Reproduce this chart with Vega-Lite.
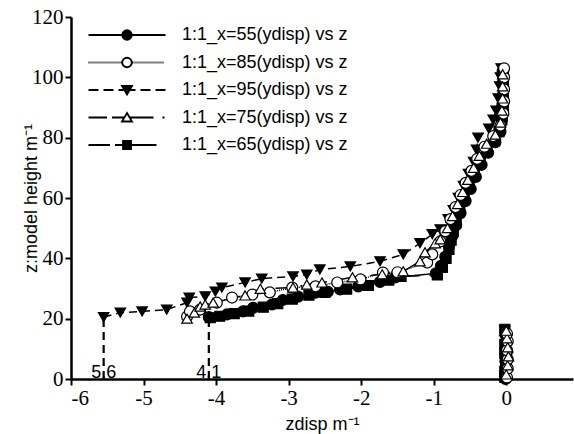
{
  "$schema": "https://vega.github.io/schema/vega-lite/v6.json",
  "width": 502,
  "height": 362,
  "autosize": "none",
  "padding": {"left": 71, "top": 17, "right": 1, "bottom": 55},
  "background": "white",
  "config": {
    "view": {"stroke": null},
    "font": "Liberation Sans",
    "axis": {
      "grid": false,
      "domainColor": "black",
      "domainWidth": 2.5,
      "tickColor": "black",
      "tickWidth": 2,
      "tickSize": 6,
      "labelFont": "Liberation Sans Narrow",
      "labelFontSize": 21,
      "labelColor": "black",
      "labelPadding": 2,
      "titleFont": "Liberation Sans",
      "titleFontSize": 18,
      "titleFontWeight": "normal",
      "titleColor": "black"
    }
  },
  "datasets": {
    "curves": [
      {"s":"55","x":-4.10,"z":20.5,"p":"u"},{"s":"55","x":-3.85,"z":21.4,"p":"u"},{"s":"55","x":-3.63,"z":22.4,"p":"u"},{"s":"55","x":-3.49,"z":23.6,"p":"u"},{"s":"55","x":-3.23,"z":24.7,"p":"u"},{"s":"55","x":-3.08,"z":26.2,"p":"u"},{"s":"55","x":-2.87,"z":27.3,"p":"u"},{"s":"55","x":-2.63,"z":28.6,"p":"u"},{"s":"55","x":-2.46,"z":28.9,"p":"u"},{"s":"55","x":-2.29,"z":29.7,"p":"u"},{"s":"55","x":-2.04,"z":30.7,"p":"u"},{"s":"55","x":-1.74,"z":32.2,"p":"u"},{"s":"55","x":-1.53,"z":33.7,"p":"u"},{"s":"55","x":-0.97,"z":35.0,"p":"u"},{"s":"55","x":-0.90,"z":37.5,"p":"u"},{"s":"55","x":-0.84,"z":40.5,"p":"u"},{"s":"55","x":-0.79,"z":44,"p":"u"},{"s":"55","x":-0.74,"z":47.5,"p":"u"},{"s":"55","x":-0.69,"z":51,"p":"u"},{"s":"55","x":-0.63,"z":55,"p":"u"},{"s":"55","x":-0.56,"z":59,"p":"u"},{"s":"55","x":-0.49,"z":63,"p":"u"},{"s":"55","x":-0.42,"z":67,"p":"u"},{"s":"55","x":-0.34,"z":71,"p":"u"},{"s":"55","x":-0.25,"z":75,"p":"u"},{"s":"55","x":-0.15,"z":78.5,"p":"u"},{"s":"55","x":-0.08,"z":82,"p":"u"},{"s":"55","x":-0.06,"z":86,"p":"u"},{"s":"55","x":-0.05,"z":90,"p":"u"},{"s":"55","x":-0.05,"z":94,"p":"u"},{"s":"55","x":-0.05,"z":98,"p":"u"},{"s":"55","x":-0.05,"z":102,"p":"u"},
      {"s":"55","x":-0.01,"z":0,"p":"l"},{"s":"55","x":0.0,"z":3,"p":"l"},{"s":"55","x":-0.01,"z":6,"p":"l"},{"s":"55","x":0.01,"z":9,"p":"l"},{"s":"55","x":0.0,"z":12,"p":"l"},{"s":"55","x":-0.01,"z":15.5,"p":"l"},

      {"s":"85","x":-4.40,"z":20.7,"p":"u"},{"s":"85","x":-4.36,"z":22.4,"p":"u"},{"s":"85","x":-4.22,"z":23,"p":"u"},{"s":"85","x":-3.99,"z":25.3,"p":"u"},{"s":"85","x":-3.78,"z":27,"p":"u"},{"s":"85","x":-3.50,"z":28,"p":"u"},{"s":"85","x":-3.26,"z":28.7,"p":"u"},{"s":"85","x":-2.95,"z":30.3,"p":"u"},{"s":"85","x":-2.63,"z":30.7,"p":"u"},{"s":"85","x":-2.33,"z":32,"p":"u"},{"s":"85","x":-2.01,"z":33,"p":"u"},{"s":"85","x":-1.70,"z":35.3,"p":"u"},{"s":"85","x":-1.50,"z":35.4,"p":"u"},{"s":"85","x":-1.09,"z":38.6,"p":"u"},{"s":"85","x":-1.02,"z":41.3,"p":"u"},{"s":"85","x":-0.91,"z":45.6,"p":"u"},{"s":"85","x":-0.84,"z":49,"p":"u"},{"s":"85","x":-0.77,"z":53,"p":"u"},{"s":"85","x":-0.70,"z":57,"p":"u"},{"s":"85","x":-0.63,"z":61,"p":"u"},{"s":"85","x":-0.56,"z":65,"p":"u"},{"s":"85","x":-0.48,"z":69,"p":"u"},{"s":"85","x":-0.40,"z":73,"p":"u"},{"s":"85","x":-0.30,"z":77,"p":"u"},{"s":"85","x":-0.18,"z":80.5,"p":"u"},{"s":"85","x":-0.08,"z":84,"p":"u"},{"s":"85","x":-0.04,"z":88,"p":"u"},{"s":"85","x":-0.03,"z":92,"p":"u"},{"s":"85","x":-0.03,"z":96,"p":"u"},{"s":"85","x":-0.03,"z":100,"p":"u"},{"s":"85","x":-0.03,"z":103,"p":"u"},
      {"s":"85","x":0.01,"z":0.5,"p":"l"},{"s":"85","x":0.02,"z":3.5,"p":"l"},{"s":"85","x":0.02,"z":6.5,"p":"l"},{"s":"85","x":0.01,"z":9.5,"p":"l"},{"s":"85","x":0.02,"z":12.5,"p":"l"},{"s":"85","x":0.01,"z":15,"p":"l"},

      {"s":"95","x":-5.55,"z":20.5,"p":"u"},{"s":"95","x":-5.32,"z":22,"p":"u"},{"s":"95","x":-5.02,"z":22.4,"p":"u"},{"s":"95","x":-4.68,"z":23,"p":"u"},{"s":"95","x":-4.40,"z":25.3,"p":"u"},{"s":"95","x":-4.37,"z":27,"p":"u"},{"s":"95","x":-4.15,"z":27.4,"p":"u"},{"s":"95","x":-4.01,"z":29,"p":"u"},{"s":"95","x":-3.92,"z":30.3,"p":"u"},{"s":"95","x":-3.60,"z":32,"p":"u"},{"s":"95","x":-3.37,"z":33.3,"p":"u"},{"s":"95","x":-2.94,"z":34,"p":"u"},{"s":"95","x":-2.75,"z":34.6,"p":"u"},{"s":"95","x":-2.57,"z":36.3,"p":"u"},{"s":"95","x":-2.15,"z":37.3,"p":"u"},{"s":"95","x":-1.74,"z":39,"p":"u"},{"s":"95","x":-1.42,"z":41.3,"p":"u"},{"s":"95","x":-1.19,"z":45,"p":"u"},{"s":"95","x":-1.02,"z":48,"p":"u"},{"s":"95","x":-0.91,"z":49.6,"p":"u"},{"s":"95","x":-0.80,"z":53,"p":"u"},{"s":"95","x":-0.73,"z":56,"p":"u"},{"s":"95","x":-0.66,"z":60,"p":"u"},{"s":"95","x":-0.59,"z":64,"p":"u"},{"s":"95","x":-0.52,"z":68,"p":"u"},{"s":"95","x":-0.45,"z":72,"p":"u"},{"s":"95","x":-0.41,"z":76,"p":"u"},{"s":"95","x":-0.39,"z":80,"p":"u"},{"s":"95","x":-0.24,"z":83,"p":"u"},{"s":"95","x":-0.18,"z":86,"p":"u"},{"s":"95","x":-0.14,"z":89,"p":"u"},{"s":"95","x":-0.11,"z":93,"p":"u"},{"s":"95","x":-0.09,"z":97,"p":"u"},{"s":"95","x":-0.08,"z":100,"p":"u"},{"s":"95","x":-0.07,"z":103,"p":"u"},
      {"s":"95","x":-0.02,"z":1,"p":"l"},{"s":"95","x":-0.01,"z":4,"p":"l"},{"s":"95","x":-0.02,"z":7,"p":"l"},{"s":"95","x":-0.01,"z":10,"p":"l"},{"s":"95","x":-0.02,"z":13,"p":"l"},{"s":"95","x":-0.02,"z":16,"p":"l"},

      {"s":"75","x":-4.40,"z":20,"p":"u"},{"s":"75","x":-4.30,"z":22,"p":"u"},{"s":"75","x":-4.22,"z":24,"p":"u"},{"s":"75","x":-4.15,"z":24.7,"p":"u"},{"s":"75","x":-4.04,"z":25.3,"p":"u"},{"s":"75","x":-3.60,"z":27.7,"p":"u"},{"s":"75","x":-3.39,"z":29.9,"p":"u"},{"s":"75","x":-2.94,"z":30.3,"p":"u"},{"s":"75","x":-2.75,"z":31.3,"p":"u"},{"s":"75","x":-2.54,"z":32,"p":"u"},{"s":"75","x":-2.12,"z":33.7,"p":"u"},{"s":"75","x":-1.71,"z":34.7,"p":"u"},{"s":"75","x":-1.42,"z":35.7,"p":"u"},{"s":"75","x":-1.19,"z":39,"p":"u"},{"s":"75","x":-1.12,"z":42,"p":"u"},{"s":"75","x":-0.98,"z":45,"p":"u"},{"s":"75","x":-0.91,"z":46.3,"p":"u"},{"s":"75","x":-0.81,"z":50,"p":"u"},{"s":"75","x":-0.74,"z":54,"p":"u"},{"s":"75","x":-0.67,"z":58,"p":"u"},{"s":"75","x":-0.60,"z":62,"p":"u"},{"s":"75","x":-0.53,"z":66,"p":"u"},{"s":"75","x":-0.45,"z":70,"p":"u"},{"s":"75","x":-0.37,"z":74,"p":"u"},{"s":"75","x":-0.27,"z":78,"p":"u"},{"s":"75","x":-0.15,"z":81,"p":"u"},{"s":"75","x":-0.08,"z":85,"p":"u"},{"s":"75","x":-0.06,"z":89,"p":"u"},{"s":"75","x":-0.05,"z":93,"p":"u"},{"s":"75","x":-0.05,"z":97,"p":"u"},{"s":"75","x":-0.05,"z":101,"p":"u"},
      {"s":"75","x":0.0,"z":1.5,"p":"l"},{"s":"75","x":0.02,"z":4.5,"p":"l"},{"s":"75","x":0.03,"z":7.5,"p":"l"},{"s":"75","x":0.02,"z":10.5,"p":"l"},{"s":"75","x":0.01,"z":13.5,"p":"l"},{"s":"75","x":0.0,"z":16,"p":"l"},

      {"s":"65","x":-4.08,"z":20.3,"p":"u"},{"s":"65","x":-3.95,"z":20.8,"p":"u"},{"s":"65","x":-3.75,"z":21.7,"p":"u"},{"s":"65","x":-3.55,"z":22.5,"p":"u"},{"s":"65","x":-3.35,"z":23.8,"p":"u"},{"s":"65","x":-3.15,"z":25,"p":"u"},{"s":"65","x":-2.95,"z":26.5,"p":"u"},{"s":"65","x":-2.72,"z":27.8,"p":"u"},{"s":"65","x":-2.50,"z":28.7,"p":"u"},{"s":"65","x":-2.20,"z":29.8,"p":"u"},{"s":"65","x":-1.90,"z":31,"p":"u"},{"s":"65","x":-1.62,"z":32.8,"p":"u"},{"s":"65","x":-1.45,"z":34,"p":"u"},{"s":"65","x":-0.95,"z":34.5,"p":"u"},{"s":"65","x":-0.88,"z":37,"p":"u"},{"s":"65","x":-0.83,"z":40,"p":"u"},{"s":"65","x":-0.79,"z":43,"p":"u"},{"s":"65","x":-0.76,"z":46,"p":"u"},{"s":"65","x":-0.73,"z":49,"p":"u"},{"s":"65","x":-0.69,"z":52.5,"p":"u"},{"s":"65","x":-0.64,"z":56,"p":"u"},{"s":"65","x":-0.58,"z":60,"p":"u"},{"s":"65","x":-0.51,"z":64,"p":"u"},{"s":"65","x":-0.44,"z":68,"p":"u"},{"s":"65","x":-0.36,"z":72,"p":"u"},{"s":"65","x":-0.27,"z":75.5,"p":"u"},{"s":"65","x":-0.17,"z":79,"p":"u"},{"s":"65","x":-0.10,"z":82,"p":"u"},{"s":"65","x":-0.06,"z":86,"p":"u"},{"s":"65","x":-0.04,"z":90,"p":"u"},{"s":"65","x":-0.04,"z":94,"p":"u"},{"s":"65","x":-0.04,"z":98,"p":"u"},{"s":"65","x":-0.04,"z":101.5,"p":"u"},
      {"s":"65","x":-0.02,"z":0.5,"p":"l"},{"s":"65","x":-0.02,"z":2.5,"p":"l"},{"s":"65","x":-0.01,"z":5.5,"p":"l"},{"s":"65","x":-0.02,"z":8.5,"p":"l"},{"s":"65","x":-0.02,"z":11.5,"p":"l"},{"s":"65","x":-0.02,"z":16.5,"p":"l"}
    ],
    "marks": [
      {"x": -5.55, "z0": 0, "z1": 20, "t": "5.6"},
      {"x": -4.1, "z0": 0, "z1": 20, "t": "4.1"}
    ]
  },
  "layer": [
    {
      "data": {"name": "curves"},
      "transform": [{"filter": "datum.p === 'u'"}],
      "mark": {"type": "line", "stroke": "black", "strokeWidth": 1.5, "clip": false},
      "encoding": {
        "x": {"field": "x", "type": "quantitative", "scale": {"domain": [-6, 0.92], "nice": false, "zero": false},
          "axis": {"values": [-6, -5, -4, -3, -2, -1, 0], "labelExpr": "'' + datum.value", "title": "zdisp m⁻¹", "titlePadding": 7}},
        "y": {"field": "z", "type": "quantitative", "scale": {"domain": [0, 120], "nice": false},
          "axis": {"values": [0, 20, 40, 60, 80, 100, 120], "title": "z:model height m⁻¹", "titlePadding": -9}},
        "detail": {"field": "s"},
        "order": {"field": "z", "type": "quantitative"},
        "strokeDash": {"field": "s", "type": "nominal",
          "scale": {"domain": ["65", "75", "85", "95", "55"], "range": [[22, 10], [20, 5, 2, 5], [1, 1], [8, 5], [1, 0]]},
          "legend": null}
      }
    },
    {
      "data": {"name": "curves"},
      "transform": [{"filter": "datum.s === '55'"}],
      "mark": {"type": "point", "shape": "circle", "fill": "black", "stroke": "black", "strokeWidth": 1.2, "size": 120, "opacity": 1, "clip": false},
      "encoding": {"x": {"field": "x", "type": "quantitative"}, "y": {"field": "z", "type": "quantitative"}}
    },
    {
      "data": {"name": "curves"},
      "transform": [{"filter": "datum.s === '65'"}],
      "mark": {"type": "point", "shape": "square", "fill": "black", "stroke": "black", "strokeWidth": 1.2, "size": 100, "opacity": 1, "clip": false},
      "encoding": {"x": {"field": "x", "type": "quantitative"}, "y": {"field": "z", "type": "quantitative"}}
    },
    {
      "data": {"name": "curves"},
      "transform": [{"filter": "datum.s === '95'"}],
      "mark": {"type": "point", "shape": "triangle-down", "fill": "black", "stroke": "black", "strokeWidth": 1.2, "size": 110, "opacity": 1, "clip": false},
      "encoding": {"x": {"field": "x", "type": "quantitative"}, "y": {"field": "z", "type": "quantitative"}}
    },
    {
      "data": {"name": "curves"},
      "transform": [{"filter": "datum.s === '85'"}],
      "mark": {"type": "point", "shape": "circle", "fill": "white", "stroke": "black", "strokeWidth": 1.2, "size": 120, "opacity": 1, "clip": false},
      "encoding": {"x": {"field": "x", "type": "quantitative"}, "y": {"field": "z", "type": "quantitative"}}
    },
    {
      "data": {"name": "curves"},
      "transform": [{"filter": "datum.s === '75'"}],
      "mark": {"type": "point", "shape": "triangle-up", "fill": "white", "stroke": "black", "strokeWidth": 1.2, "size": 110, "opacity": 1, "clip": false},
      "encoding": {"x": {"field": "x", "type": "quantitative"}, "y": {"field": "z", "type": "quantitative"}}
    },
    {
      "data": {"name": "marks"},
      "mark": {"type": "rule", "stroke": "black", "strokeWidth": 2.2, "strokeDash": [8, 5]},
      "encoding": {
        "x": {"field": "x", "type": "quantitative"},
        "y": {"field": "z0", "type": "quantitative"},
        "y2": {"field": "z1"}
      }
    },
    {
      "data": {"name": "marks"},
      "mark": {"type": "text", "font": "Liberation Sans", "fontSize": 18, "color": "black", "align": "center", "baseline": "alphabetic", "dy": -1},
      "encoding": {
        "x": {"field": "x", "type": "quantitative"},
        "y": {"field": "z0", "type": "quantitative"},
        "text": {"field": "t"}
      }
    },
    {
      "data": {"name": "curves"},
      "transform": [{"filter": "datum.p === 'u'"}],
      "mark": {"type": "point", "opacity": 0, "strokeWidth": 1.2, "size": 100, "clip": true},
      "encoding": {
        "x": {"field": "x", "type": "quantitative"},
        "y": {"field": "z", "type": "quantitative"},
        "fill": {"field": "s", "type": "nominal",
          "scale": {"domain": ["55", "85", "95", "75", "65"], "range": ["black", "white", "black", "white", "black"]}},
        "stroke": {"field": "s", "type": "nominal",
          "scale": {"domain": ["55", "85", "95", "75", "65"], "range": ["black", "black", "black", "black", "black"]}},
        "shape": {"field": "s", "type": "nominal",
          "scale": {"domain": ["55", "85", "95", "75", "65"], "range": [
            "M-7.7,0H7.7M0.95,0C0.95,0.5247 0.5247,0.95 0,0.95C-0.5247,0.95 -0.95,0.5247 -0.95,0C-0.95,-0.5247 -0.5247,-0.95 0,-0.95C0.5247,-0.95 0.95,-0.5247 0.95,0Z",
            "M-7.7,0h0.2m0.2,0h0.2m0.2,0h0.2m0.2,0h0.2m0.2,0h0.2m0.2,0h0.2m0.2,0h0.2m0.2,0h0.2m0.2,0h0.2m0.2,0h0.2m0.2,0h0.2m0.2,0h0.2m0.2,0h0.2m0.2,0h0.2m0.2,0h0.2m0.2,0h0.2m0.2,0h0.2M1.1,0h0.2m0.2,0h0.2m0.2,0h0.2m0.2,0h0.2m0.2,0h0.2m0.2,0h0.2m0.2,0h0.2m0.2,0h0.2m0.2,0h0.2m0.2,0h0.2m0.2,0h0.2m0.2,0h0.2m0.2,0h0.2m0.2,0h0.2m0.2,0h0.2m0.2,0h0.2M0.95,0C0.95,0.5247 0.5247,0.95 0,0.95C-0.5247,0.95 -0.95,0.5247 -0.95,0C-0.95,-0.5247 -0.5247,-0.95 0,-0.95C0.5247,-0.95 0.95,-0.5247 0.95,0Z",
            "M-7.7,0H-5.7M-4.7,0H-2.7M-1.7,0H1.7M2.7,0H4.7M5.7,0H7.7M-1,-0.8L1,-0.8L0,0.9Z",
            "M-7.7,0H-4M-3,0H-0.6M0.6,0H5.3M7.1,0H7.5M0,-0.9L1,0.8L-1,0.8Z",
            "M-7.7,0H-3.4M-2.4,0H5.9M-0.8,-0.8H0.8V0.8H-0.8Z"
          ]},
          "legend": {
            "title": null,
            "orient": "none",
            "legendX": 10,
            "legendY": 9,
            "padding": 0,
            "symbolSize": 100,
            "symbolOffset": 37,
            "symbolOpacity": 1,
            "symbolStrokeWidth": 1.8,
            "labelOffset": 46,
            "labelLimit": 400,
            "labelFont": "Liberation Sans",
            "labelFontSize": 18,
            "labelColor": "black",
            "rowPadding": 9.5,
            "labelExpr": "'1:1_x=' + datum.label + '(ydisp) vs z'"
          }
        }
      }
    }
  ]
}
